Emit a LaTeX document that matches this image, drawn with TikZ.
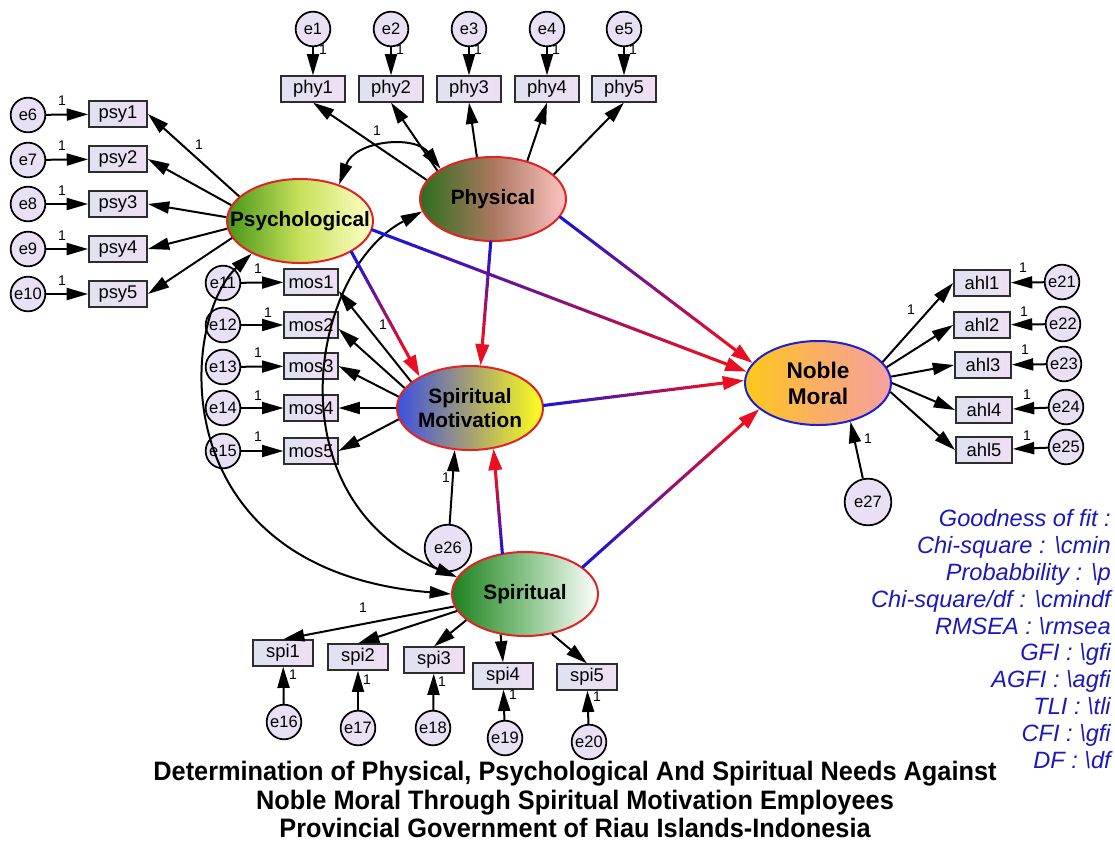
\documentclass[tikz,border=0pt]{standalone}
\usepackage{fontspec}
\setmainfont{Liberation Sans}
\newfontfamily\titlefont[FakeStretch=0.95]{Liberation Sans}
\usetikzlibrary{arrows.meta,calc,shapes.geometric}

\definecolor{boxline}{RGB}{45,45,45}
\definecolor{boxL}{RGB}{222,226,240}
\definecolor{boxR}{RGB}{240,222,245}
\definecolor{errfill}{RGB}{234,224,246}
\definecolor{latred}{RGB}{225,35,35}
\definecolor{latblue}{RGB}{30,30,210}
\definecolor{lineblue}{RGB}{20,20,225}
\definecolor{linered}{RGB}{232,15,35}
\definecolor{fitblue}{RGB}{25,25,190}
\definecolor{psyL}{RGB}{70,150,25}
\definecolor{psyM}{RGB}{200,225,90}
\definecolor{psyR}{RGB}{255,255,200}
\definecolor{phyL}{RGB}{45,110,30}
\definecolor{phyM}{RGB}{170,120,95}
\definecolor{phyR}{RGB}{255,195,195}
\definecolor{motL}{RGB}{60,80,225}
\definecolor{motM}{RGB}{165,160,115}
\definecolor{motR}{RGB}{255,255,30}
\definecolor{nobL}{RGB}{255,200,25}
\definecolor{nobM}{RGB}{250,175,100}
\definecolor{nobR}{RGB}{245,160,160}
\definecolor{spiL}{RGB}{30,130,30}
\definecolor{spiM}{RGB}{135,195,135}
\definecolor{spiR}{RGB}{255,255,255}

% blue-to-red structural path
\newcommand{\structarrow}[2]{%
	\coordinate (sa) at (#1);
	\coordinate (sb) at ($(#2)!20pt!(#1)$);
	\foreach \k in {0,...,19}{
		\pgfmathtruncatemacro{\mixpc}{round(\k*100/19)}
		\draw[sp, draw=linered!\mixpc!lineblue] ($(sa)!\k/20!(sb)$) -- ($(sa)!\k/20+0.05!(sb)$);
	}
	\draw[sp, line cap=butt, draw=linered, -{Triangle[length=16pt, width=10pt]}] (sb) -- (#2);
}

\begin{document}
\begin{tikzpicture}[x=0.75pt, y=-0.75pt,
		obs/.style = {rectangle, draw=boxline, line width=1.4pt, left color=boxL, right color=boxR, minimum height=19pt, minimum width=44pt, inner sep=0pt, font=\fontsize{13.8}{15}\selectfont},
		res/.style = {circle, draw=black, line width=1.3pt, fill=errfill, minimum size=26pt, inner sep=0pt, font=\fontsize{12.4}{14}\selectfont},
		lat/.style = {ellipse, draw=latred, line width=1.5pt, minimum width=109.5pt, minimum height=63pt, inner sep=0pt, align=center, font=\bfseries\fontsize{15.6}{18}\selectfont},
		wt/.style  = {inner sep=0pt, font=\fontsize{10.5}{12}\selectfont},
		ld/.style  = {line width=1.5pt, -{Triangle[length=16pt, width=9pt]}},
		cv/.style  = {line width=1.5pt, {Triangle[length=16pt, width=9pt]}-{Triangle[length=16pt, width=9pt]}},
		sp/.style  = {line width=2.3pt, line cap=round},
		gof/.style = {anchor=base east, inner sep=0pt, text=fitblue, font=\itshape\fontsize{17.7}{20}\selectfont},
		ttl/.style = {anchor=base, inner sep=0pt, font=\titlefont\bfseries\fontsize{20}{22}\selectfont}
		]
		
		\fill[white] (0,0) rectangle (1115,844);
		\useasboundingbox (0,0) rectangle (1115,844);
		
		\node[lat, left color=phyL, right color=phyR, middle color=phyM]	(Phys)	at	(493,199)	{\makebox[0pt]{Physical}};
		\node[lat, left color=psyL, right color=psyR, middle color=psyM]	(Psych)	at	(300,221)	{\makebox[0pt]{Psychological}};
		\node[lat, left color=motL, right color=motR, middle color=motM]	(SpMot)	at	(470,408)	{\makebox[0pt]{Spiritual}\\\makebox[0pt]{Motivation}};
		\node[lat, left color=nobL, right color=nobR, middle color=nobM, draw=latblue, font=\bfseries\fontsize{17}{19.5}\selectfont]	(Noble)	at	(818,383)	{\makebox[0pt]{Noble}\\\makebox[0pt]{Moral}};
		\node[lat, left color=spiL, right color=spiR, middle color=spiM]	(Spir)	at	(525,594)	{\makebox[0pt]{Spiritual}};
		
		\node[obs, minimum width=48pt]	(phy1)	at	(313,89)	{phy1};
		\node[obs, minimum width=48pt]	(phy2)	at	(391,89)	{phy2};
		\node[obs, minimum width=48pt]	(phy3)	at	(469,89)	{phy3};
		\node[obs, minimum width=48pt]	(phy4)	at	(547,89)	{phy4};
		\node[obs, minimum width=48pt]	(phy5)	at	(624,89)	{phy5};
		\node[res]	(e1)	at	(313,29)	{e1};
		\node[res]	(e2)	at	(391,29)	{e2};
		\node[res]	(e3)	at	(469,29)	{e3};
		\node[res]	(e4)	at	(547,29)	{e4};
		\node[res]	(e5)	at	(624,29)	{e5};
		
		\node[obs, minimum width=43.5pt]	(psy1)	at	(118,114)	{psy1};
		\node[obs, minimum width=43.5pt]	(psy2)	at	(118,159)	{psy2};
		\node[obs, minimum width=43.5pt]	(psy3)	at	(118,204)	{psy3};
		\node[obs, minimum width=43.5pt]	(psy4)	at	(118,249)	{psy4};
		\node[obs, minimum width=43.5pt]	(psy5)	at	(118,294)	{psy5};
		\node[res]	(e6)	at	(28,115)	{e6};
		\node[res]	(e7)	at	(28,160)	{e7};
		\node[res]	(e8)	at	(28,204)	{e8};
		\node[res]	(e9)	at	(28,249)	{e9};
		\node[res]	(e10)	at	(28,294)	{e10};
		
		\node[obs, minimum width=40pt]	(mos1)	at	(311,282)	{mos1};
		\node[obs, minimum width=40pt]	(mos2)	at	(311,325)	{mos2};
		\node[obs, minimum width=40pt]	(mos3)	at	(311,366)	{mos3};
		\node[obs, minimum width=40pt]	(mos4)	at	(311,408)	{mos4};
		\node[obs, minimum width=40pt]	(mos5)	at	(311,451)	{mos5};
		\node[res]	(e11)	at	(223,283)	{e11};
		\node[res]	(e12)	at	(223,325)	{e12};
		\node[res]	(e13)	at	(223,367)	{e13};
		\node[res]	(e14)	at	(223,408)	{e14};
		\node[res]	(e15)	at	(223,451)	{e15};
		
		\node[obs, minimum width=45.5pt]	(spi1)	at	(283,653)	{spi1};
		\node[obs, minimum width=45.5pt]	(spi2)	at	(358,657)	{spi2};
		\node[obs, minimum width=45.5pt]	(spi3)	at	(434,660)	{spi3};
		\node[obs, minimum width=45.5pt]	(spi4)	at	(503,676)	{spi4};
		\node[obs, minimum width=45.5pt]	(spi5)	at	(587,677)	{spi5};
		\node[res]	(e16)	at	(284,722)	{e16};
		\node[res]	(e17)	at	(358,728)	{e17};
		\node[res]	(e18)	at	(433,728)	{e18};
		\node[res]	(e19)	at	(505,738)	{e19};
		\node[res]	(e20)	at	(589,742)	{e20};
		
		\node[obs, minimum width=42pt]	(ahl1)	at	(982,283)	{ahl1};
		\node[obs, minimum width=42pt]	(ahl2)	at	(982,325)	{ahl2};
		\node[obs, minimum width=42pt]	(ahl3)	at	(983,365)	{ahl3};
		\node[obs, minimum width=42pt]	(ahl4)	at	(984,410)	{ahl4};
		\node[obs, minimum width=42pt]	(ahl5)	at	(984,450)	{ahl5};
		\node[res]	(e21)	at	(1062,282)	{e21};
		\node[res]	(e22)	at	(1063,324)	{e22};
		\node[res]	(e23)	at	(1064,364)	{e23};
		\node[res]	(e24)	at	(1066,407)	{e24};
		\node[res]	(e25)	at	(1066,447)	{e25};
		
		\node[res, minimum size=35pt]	(e26)	at	(448,548)	{e26};
		\node[res, minimum size=35pt]	(e27)	at	(868,502)	{e27};
		
		% residual paths
		\draw[ld]	(e1)	--	(phy1);
		\draw[ld]	(e2)	--	(phy2);
		\draw[ld]	(e3)	--	(phy3);
		\draw[ld]	(e4)	--	(phy4);
		\draw[ld]	(e5)	--	(phy5);
		\draw[ld]	(e6)	--	(psy1);
		\draw[ld]	(e7)	--	(psy2);
		\draw[ld]	(e8)	--	(psy3);
		\draw[ld]	(e9)	--	(psy4);
		\draw[ld]	(e10)	--	(psy5);
		\draw[ld]	(e11)	--	(mos1);
		\draw[ld]	(e12)	--	(mos2);
		\draw[ld]	(e13)	--	(mos3);
		\draw[ld]	(e14)	--	(mos4);
		\draw[ld]	(e15)	--	(mos5);
		\draw[ld]	(e16)	--	(spi1);
		\draw[ld]	(e17)	--	(spi2);
		\draw[ld]	(e18)	--	(spi3);
		\draw[ld]	(e19)	--	(spi4);
		\draw[ld]	(e20)	--	(spi5);
		\draw[ld]	(e21)	--	(ahl1);
		\draw[ld]	(e22)	--	(ahl2);
		\draw[ld]	(e23)	--	(ahl3);
		\draw[ld]	(e24)	--	(ahl4);
		\draw[ld]	(e25)	--	(ahl5);
		\draw[ld]	(e26)	--	(SpMot.-110);
		\draw[ld]	(e27)	--	(Noble.-50);
		
		% loadings
		\draw[ld]	(Phys.164)	--	(phy1.south);
		\draw[ld]	(Phys.153)	--	(phy2.south);
		\draw[ld]	(Phys.111)	--	(phy3.south);
		\draw[ld]	(Phys.48)	--	(phy4.south);
		\draw[ld]	(Phys.22)	--	(phy5.south);
		\draw[ld]	(Psych.158)	--	(psy1.east);
		\draw[ld]	(Psych.167)	--	(psy2.east);
		\draw[ld]	(Psych.177)	--	(psy3.east);
		\draw[ld]	(Psych.186)	--	(psy4.east);
		\draw[ld]	(Psych.194)	--	(psy5.east);
		\draw[ld]	(SpMot.156)	--	(mos1.-18);
		\draw[ld]	(SpMot.163)	--	(mos2.-8);
		\draw[ld]	(SpMot.171)	--	(mos3.east);
		\draw[ld]	(SpMot.180)	--	(mos4.east);
		\draw[ld]	(SpMot.189)	--	(mos5.east);
		\draw[ld]	(Spir.190)	--	(spi1.north);
		\draw[ld]	(Spir.194)	--	(spi2.north);
		\draw[ld]	(Spir.204)	--	(spi3.north);
		\draw[ld]	(Spir.239)	--	(spi4.north);
		\draw[ld]	(Spir.304)	--	(spi5.north);
		\draw[ld]	(Noble.18)	--	(ahl1.west);
		\draw[ld]	(Noble.13)	--	(ahl2.west);
		\draw[ld]	(Noble.5)	--	(ahl3.west);
		\draw[ld]	(Noble.0)	--	(ahl4.west);
		\draw[ld]	(Noble.-7)	--	(ahl5.west);
		
		% covariances
		\draw[cv]	(Psych.43)	.. controls (355,140) and (415,135) ..	(Phys.150);
		\draw[cv]	(Psych.214)	.. controls (180,320) and (160,570) ..	(Spir.180);
		\draw[cv]	(Phys.190)	.. controls (310,270) and (270,500) ..	(Spir.166);
		
		% structural paths
		\structarrow{Psych.-31}{SpMot.148}
		\structarrow{Phys.267}{SpMot.76}
		\structarrow{Psych.-7}{Noble.171}
		\structarrow{Phys.-15}{Noble.163}
		\structarrow{SpMot.2}{Noble.178}
		\structarrow{Spir.119}{SpMot.-60}
		\structarrow{Spir.25}{Noble.204}
		
		\node[wt]	(w1)	at	(323,50)	{1};
		\node[wt]	(w2)	at	(400,50)	{1};
		\node[wt]	(w3)	at	(478,50)	{1};
		\node[wt]	(w4)	at	(556,50)	{1};
		\node[wt]	(w5)	at	(633,50)	{1};
		\node[wt]	(w6)	at	(62,101)	{1};
		\node[wt]	(w7)	at	(62,146)	{1};
		\node[wt]	(w8)	at	(62,191)	{1};
		\node[wt]	(w9)	at	(62,236)	{1};
		\node[wt]	(w10)	at	(62,281)	{1};
		\node[wt]	(w11)	at	(258,269)	{1};
		\node[wt]	(w12)	at	(268,313)	{1};
		\node[wt]	(w13)	at	(258,353)	{1};
		\node[wt]	(w14)	at	(258,396)	{1};
		\node[wt]	(w15)	at	(258,437)	{1};
		\node[wt]	(w16)	at	(293,675)	{1};
		\node[wt]	(w17)	at	(367,680)	{1};
		\node[wt]	(w18)	at	(442,682)	{1};
		\node[wt]	(w19)	at	(513,695)	{1};
		\node[wt]	(w20)	at	(597,697)	{1};
		\node[wt]	(w21)	at	(1023,268)	{1};
		\node[wt]	(w22)	at	(1024,312)	{1};
		\node[wt]	(w23)	at	(1025,350)	{1};
		\node[wt]	(w24)	at	(1027,395)	{1};
		\node[wt]	(w25)	at	(1027,436)	{1};
		\node[wt]	(w26)	at	(446,478)	{1};
		\node[wt]	(w27)	at	(868,439)	{1};
		\node[wt]	(l1)	at	(377,131)	{1};
		\node[wt]	(l2)	at	(199,145)	{1};
		\node[wt]	(l3)	at	(383,325)	{1};
		\node[wt]	(l4)	at	(363,608)	{1};
		\node[wt]	(l5)	at	(911,310)	{1};
		
		\node[gof]	(g1)	at	(1111,526)	{Goodness of fit :};
		\node[gof]	(g2)	at	(1111,553)	{Chi-square : \textbackslash cmin};
		\node[gof]	(g3)	at	(1111,580)	{Probabbility : \textbackslash p};
		\node[gof]	(g4)	at	(1111,607)	{Chi-square/df : \textbackslash cmindf};
		\node[gof]	(g5)	at	(1111,634)	{RMSEA : \textbackslash rmsea};
		\node[gof]	(g6)	at	(1111,660)	{GFI : \textbackslash gfi};
		\node[gof]	(g7)	at	(1111,687)	{AGFI : \textbackslash agfi};
		\node[gof]	(g8)	at	(1111,714)	{TLI : \textbackslash tli};
		\node[gof]	(g9)	at	(1111,741)	{CFI : \textbackslash gfi};
		\node[gof]	(g10)	at	(1111,768)	{DF : \textbackslash df};
		
		\node[ttl]	(t1)	at	(575,780)	{Determination of Physical, Psychological And Spiritual Needs Against};
		\node[ttl]	(t2)	at	(575,809)	{Noble Moral Through Spiritual Motivation Employees};
		\node[ttl]	(t3)	at	(575,837)	{Provincial Government of Riau Islands-Indonesia};
\end{tikzpicture}
\end{document}
